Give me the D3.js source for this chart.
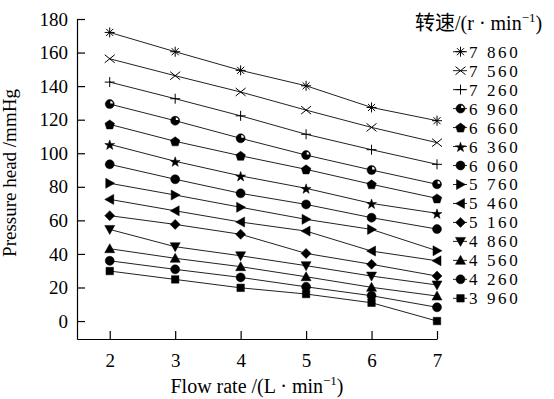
<!DOCTYPE html>
<html>
<head>
<meta charset="utf-8">
<script src="https://cdn.jsdelivr.net/npm/d3@7"></script>
<style>
  html, body { margin: 0; padding: 0; background: #fff; }
  svg { display: block; }
</style>
</head>
<body>
<div id="chart"></div>
<script>
// flow rate, L/min
const flowRates = [2, 3, 4, 5, 6, 7];
// rotating speeds, r/min (legend order, top to bottom)
const speeds = ["7 860", "7 560", "7 260", "6 960", "6 660", "6 360", "6 060",
                "5 760", "5 460", "5 160", "4 860", "4 560", "4 260", "3 960"];
const markerKinds = ["asterisk", "times", "plus", "halfCircle", "pentagon", "star", "circle",
                     "triRight", "triLeft", "diamond", "triDown", "triUp", "circle", "square"];
// pressure head, mmHg
const head7860 = [172, 160.5, 149.4, 140.2, 127.3, 119.4];
const head7560 = [156.3, 146.2, 136.5, 125.7, 115.4, 106.3];
const head7260 = [142.4, 132.5, 122.3, 111.3, 102.1, 93.4];
const head6960 = [129.3, 119.4, 108.9, 98.9, 90, 81.5];
const head6660 = [117.2, 107.1, 98.5, 90.4, 81.5, 73.1];
const head6360 = [105.3, 95.2, 86.5, 79.1, 70.1, 64.2];
const head6060 = [93.4, 84.5, 76.1, 69.5, 61.6, 54.8];
const head5760 = [82.1, 75.1, 67.8, 60.6, 54.6, 41.9];
const head5460 = [72.5, 65.7, 59, 53.6, 41.7, 35.9];
const head5160 = [62.8, 57.6, 51.7, 40.3, 33.8, 26.8];
const head4860 = [54.6, 44.3, 38.9, 33, 26.8, 21.5];
const head4560 = [43.1, 37.4, 32.4, 26.4, 20.1, 14.9];
const head4260 = [35.9, 30.8, 26, 20.4, 15.1, 8.2];
const head3960 = [29.8, 24.8, 19.8, 16.1, 10.9, 0];
const yTicks = [0, 20, 40, 60, 80, 100, 120, 140, 160, 180];

const allHeads = [head7860, head7560, head7260, head6960, head6660, head6360, head6060,
                  head5760, head5460, head5160, head4860, head4560, head4260, head3960];

const SERIF = "'Liberation Serif', 'Times New Roman', Times, 'DejaVu Serif', serif";
const W = 554, H = 399;
const svg = d3.select("#chart").append("svg")
  .attr("width", W).attr("height", H)
  .attr("font-family", SERIF)
  .style("font-family", SERIF);

const x = d3.scaleLinear().domain([1.5, 7]).range([77, 437]);
const y = d3.scaleLinear().domain([-10.7, 180]).range([339, 19]);

// marker shapes, centred on 0,0
function markerPath(kind, r) {
  const p = d3.path();
  const poly = pts => { pts.forEach((q, i) => i ? p.lineTo(q[0], q[1]) : p.moveTo(q[0], q[1])); p.closePath(); };
  switch (kind) {
    case "asterisk":
      for (let k = 0; k < 4; k++) {
        const a = k * Math.PI / 4;
        p.moveTo(-r * Math.cos(a), -r * Math.sin(a)); p.lineTo(r * Math.cos(a), r * Math.sin(a));
      }
      break;
    case "times":
      p.moveTo(-r, -r * 0.8); p.lineTo(r, r * 0.8); p.moveTo(-r, r * 0.8); p.lineTo(r, -r * 0.8);
      break;
    case "plus":
      p.moveTo(-r, 0); p.lineTo(r, 0); p.moveTo(0, -r); p.lineTo(0, r);
      break;
    case "circle": case "halfCircle":
      p.moveTo(r * 0.9, 0); p.arc(0, 0, r * 0.9, 0, 2 * Math.PI);
      break;
    case "pentagon":
      poly(d3.range(5).map(k => { const a = -Math.PI / 2 + k * 2 * Math.PI / 5; return [r * Math.cos(a), r * Math.sin(a) + 0.5]; }));
      break;
    case "star":
      poly(d3.range(10).map(k => { const a = -Math.PI / 2 + k * Math.PI / 5, rr = k % 2 ? r * 0.42 : r * 1.05; return [rr * Math.cos(a), rr * Math.sin(a) + 0.8]; }));
      break;
    case "triRight": poly([[-r * 0.8, -r], [r, 0], [-r * 0.8, r]]); break;
    case "triLeft": poly([[r * 0.8, -r], [-r, 0], [r * 0.8, r]]); break;
    case "triDown": poly([[-r, -r * 0.8], [r, -r * 0.8], [0, r]]); break;
    case "triUp": poly([[-r, r * 0.8], [r, r * 0.8], [0, -r]]); break;
    case "diamond": poly([[0, -r], [r, 0], [0, r], [-r, 0]]); break;
    case "square": poly([[-r * 0.75, -r * 0.75], [r * 0.75, -r * 0.75], [r * 0.75, r * 0.75], [-r * 0.75, r * 0.75]]); break;
  }
  return p.toString();
}
const isStroke = k => k === "asterisk" || k === "times" || k === "plus";

function drawMarker(g, kind, cx, cy) {
  const m = g.append("g").attr("transform", `translate(${cx},${cy})`);
  m.append("path")
    .attr("d", markerPath(kind, 5))
    .attr("fill", isStroke(kind) ? "none" : "#000")
    .attr("stroke", "#000")
    .attr("stroke-width", isStroke(kind) ? 1 : 0.5);
  if (kind === "halfCircle") {
    const arc = d3.arc().innerRadius(0).outerRadius(2.6).startAngle(0).endAngle(Math.PI / 2);
    m.append("path").attr("d", arc()).attr("fill", "#fff").attr("transform", "translate(0.6,-0.6)");
  }
}

// axes
const yAxis = svg.append("g")
  .attr("transform", `translate(${x(1.5)},0)`)
  .call(d3.axisLeft(y).tickValues(yTicks).tickFormat(d3.format("d"))
    .tickSizeInner(-8).tickSizeOuter(0).tickPadding(9));
const xAxis = svg.append("g")
  .attr("transform", `translate(0,${y(-10.7)})`)
  .call(d3.axisBottom(x).tickValues(flowRates).tickFormat(d3.format("d"))
    .tickSizeInner(-8).tickSizeOuter(0).tickPadding(15));
[yAxis, xAxis].forEach(a => {
  a.attr("font-family", SERIF).attr("font-size", 19);
  a.selectAll("path, line").attr("stroke", "#000").attr("stroke-width", 1.2);
  a.selectAll("text").style("font-family", SERIF).style("font-size", "19px").attr("fill", "#000");
});

// series
const line = d3.line().x((d, i) => x(flowRates[i])).y(d => y(d));
allHeads.forEach((vals, s) => {
  svg.append("path").datum(vals)
    .attr("d", line)
    .attr("fill", "none")
    .attr("stroke", "#222")
    .attr("stroke-width", 1);
  const g = svg.append("g");
  vals.forEach((v, i) => drawMarker(g, markerKinds[s], x(flowRates[i]), y(v)));
});

// axis titles
const xt = svg.append("text").attr("x", 257).attr("y", 393).attr("text-anchor", "middle")
  .style("font-family", SERIF).style("font-size", "20px");
xt.append("tspan").text("Flow rate /(L \u00b7 min");
xt.append("tspan").attr("dy", -8).style("font-size", "13px").text("\u22121");
xt.append("tspan").attr("dy", 8).text(")");

svg.append("text")
  .attr("transform", "translate(16,173) rotate(-90)")
  .attr("text-anchor", "middle")
  .style("font-family", SERIF).style("font-size", "19px")
  .text("Pressure head /mmHg");

// legend
const lt = svg.append("text").attr("x", 415).attr("y", 30)
  .style("font-family", SERIF).style("font-size", "20px");
lt.append("tspan").style("font-family", "'Noto Sans CJK SC'").style("font-size", "20px").text("转速");
lt.append("tspan").text("/(r \u00b7 min");
lt.append("tspan").attr("dy", -8).style("font-size", "13px").text("\u22121");
lt.append("tspan").attr("dy", 8).text(")");

const legY = d3.scaleLinear().domain([0, 13]).range([51.7, 298.3]);
speeds.forEach((sp, s) => {
  const cy = legY(s), g = svg.append("g");
  g.append("line").attr("x1", 453).attr("x2", 467).attr("y1", cy).attr("y2", cy)
    .attr("stroke", "#222").attr("stroke-width", 1);
  drawMarker(g, markerKinds[s], 460.5, cy);
  g.append("text").attr("x", 469).attr("y", cy + 6)
    .style("font-family", SERIF).style("font-size", "17px").style("letter-spacing", "2.6px").text(sp);
});
</script>
</body>
</html>
